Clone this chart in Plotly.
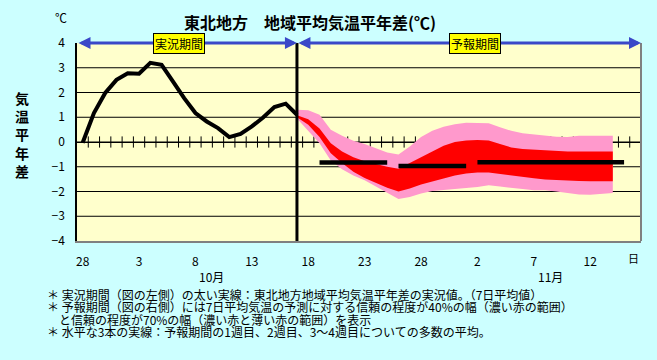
import plotly.graph_objects as go

# ---------------- data ----------------
# categories: 28 Sep .. 16 Nov (index 0..49)
day_labels = ["28", "3", "8", "13", "18", "23", "28", "2", "7", "12"]
label_idx = [0, 5, 10, 15, 20, 25, 30, 35, 40, 45]
n_days = 50

obs_days = list(range(0, 20))
obs_vals = [-0.03, 1.17, 1.98, 2.51, 2.78, 2.76, 3.2, 3.12, 2.45, 1.77,
            1.17, 0.83, 0.56, 0.2, 0.33, 0.63, 0.99, 1.41, 1.55, 1.10]

fc_days = list(range(19, 48))
red_hi = [1.08, 0.92, 0.55, -0.05, -0.38, -0.62, -0.78, -0.9, -1.0, -1.08,
          -0.85, -0.62, -0.4, -0.15, 0.0, 0.06, 0.08, 0.06, -0.08, -0.22,
          -0.28, -0.31, -0.34, -0.36, -0.38, -0.38, -0.38, -0.38, -0.38]
red_lo = [1.0, 0.7, 0.2, -0.45, -0.85, -1.2, -1.45, -1.65, -1.85, -2.0,
          -1.88, -1.72, -1.6, -1.48, -1.35, -1.27, -1.23, -1.23, -1.28, -1.35,
          -1.41, -1.46, -1.52, -1.55, -1.57, -1.58, -1.59, -1.59, -1.59]
pink_hi = [1.3, 1.28, 1.1, 0.5, 0.25, 0.05, -0.08, -0.25, -0.42, -0.5,
           -0.18, 0.2, 0.45, 0.62, 0.72, 0.78, 0.78, 0.76, 0.6, 0.45,
           0.35, 0.3, 0.24, 0.21, 0.2, 0.25, 0.25, 0.25, 0.25]
pink_lo = [0.95, 0.45, -0.05, -0.75, -1.1, -1.35, -1.55, -1.8, -2.05, -2.3,
           -2.22, -2.08, -1.98, -1.93, -1.88, -1.86, -1.82, -1.75, -1.8, -1.86,
           -1.9, -1.95, -1.95, -2.0, -2.05, -2.12, -2.13, -2.1, -2.06]

week_starts = [21, 28, 35]
week_ends = [27, 34, 48]
week_vals = [-0.83, -0.97, -0.82]

y_ticks = [-4, -3, -2, -1, 0, 1, 2, 3, 4]

notes = [
    "＊ 実況期間（図の左側）の太い実線：東北地方地域平均気温平年差の実況値。（7日平均値）",
    "＊ 予報期間（図の右側）には7日平均気温の予測に対する信頼の程度が40%の幅（濃い赤の範囲）",
    "　と信頼の程度が70%の幅（濃い赤と薄い赤の範囲）を表示",
    "＊ 水平な3本の実線：予報期間の1週目、2週目、3～4週目についての多数の平均。",
]

# ---------------- layout geometry ----------------
W_PX, H_PX = 657, 360
L, R, T, B = 77, 16, 43, 119
PW = W_PX - L - R
PH = H_PX - T - B

def px(x):
    return (x - L) / PW

def py(y):
    return (H_PX - B - y) / PH

FONT = "Noto Sans CJK JP"
divider = obs_days[-1]
xmin, xmax = -0.5, n_days - 0.5
bounds = [k + 0.5 for k in range(n_days)]

fig = go.Figure()

# category-boundary tick marks crossing the zero line (drawn beneath bands)
fig.add_trace(go.Scatter(x=bounds, y=[0] * len(bounds), mode="markers",
                         marker=dict(symbol="line-ns", size=8,
                                     line=dict(color="black", width=1)),
                         showlegend=False, hoverinfo="skip", cliponaxis=False))

# pink (70%) band
fig.add_trace(go.Scatter(x=fc_days, y=pink_lo, mode="lines", line=dict(width=0),
                         showlegend=False, hoverinfo="skip"))
fig.add_trace(go.Scatter(x=fc_days, y=pink_hi, mode="lines", line=dict(width=0),
                         fill="tonexty", fillcolor="#FF99CC", showlegend=False))
# red (40%) band
fig.add_trace(go.Scatter(x=fc_days, y=red_lo, mode="lines", line=dict(width=0),
                         showlegend=False, hoverinfo="skip"))
fig.add_trace(go.Scatter(x=fc_days, y=red_hi, mode="lines", line=dict(width=0),
                         fill="tonexty", fillcolor="#FF0000", showlegend=False))

# observed line
fig.add_trace(go.Scatter(x=obs_days, y=obs_vals, mode="lines",
                         line=dict(color="black", width=4), showlegend=False))

# weekly mean lines
for s, e, v in zip(week_starts, week_ends, week_vals):
    fig.add_trace(go.Scatter(x=[s, e], y=[v, v], mode="lines",
                             line=dict(color="black", width=4.5), showlegend=False))

# horizontal grid lines (beneath traces)
for v in y_ticks[1:-1]:
    fig.add_shape(type="line", x0=0, x1=1, xref="paper", y0=v, y1=v, yref="y",
                  line=dict(color="black", width=1), layer="below")

# divider line
fig.add_shape(type="line", x0=divider, x1=divider, y0=y_ticks[0], y1=y_ticks[-1],
              xref="x", yref="y", line=dict(color="black", width=3))
# right border
fig.add_shape(type="line", x0=1, x1=1, y0=0, y1=1, xref="paper", yref="paper",
              line=dict(color="#808080", width=2))

annotations = []
ARROW = "#3A48C8"
for x0, x1 in [(xmin, divider), (divider, xmax)]:
    annotations.append(dict(x=x1, y=y_ticks[-1], ax=x0, ay=y_ticks[-1],
                            xref="x", yref="y", axref="x", ayref="y", text="",
                            showarrow=True, arrowside="end+start", arrowhead=2,
                            startarrowhead=2, arrowsize=0.8, startarrowsize=0.8,
                            arrowwidth=3, arrowcolor=ARROW, standoff=0,
                            startstandoff=0))

for txt, xc in [("実況期間", 8.5), ("予報期間", 34.75)]:
    annotations.append(dict(x=xc, y=y_ticks[-1], xref="x", yref="y", text=txt,
                            showarrow=False, bgcolor="#FFFF00", bordercolor="black",
                            borderwidth=1, borderpad=1, xanchor="center",
                            yanchor="middle",
                            font=dict(family=FONT, size=12, color="black")))

def label(txt, x, y, size, anchor="center", align="center"):
    annotations.append(dict(x=px(x), y=py(y), xref="paper", yref="paper",
                            text=txt, showarrow=False, xanchor=anchor,
                            yanchor="middle", align=align,
                            font=dict(family=FONT, size=size, color="black")))

label("<b>東北地方　地域平均気温平年差(℃)</b>", 310, 22, 16)
label("℃", 61, 18, 12)
label("<b>気<br>温<br>平<br>年<br>差</b>", 22, 134, 14)
label("10月", 211, 276, 12)
label("11月", 550, 276, 12)
label("日", 633, 258, 11)

# notes block: one text, 12px glyphs on a tighter (~12.4px) line pitch
notes_text = "<br>".join("<span style='font-size:12px'>%s</span>" % t for t in notes)
label(notes_text, 45, 312.5, 9.5, anchor="left", align="left")

fig.update_layout(
    width=W_PX, height=H_PX,
    margin=dict(l=L, r=R, t=T, b=B, autoexpand=False),
    paper_bgcolor="#CCFFFF",
    plot_bgcolor="#FFFFCC",
    font=dict(family=FONT, size=12, color="black"),
    showlegend=False,
    hovermode=False,
    annotations=annotations,
    xaxis=dict(range=[xmin, xmax], tickmode="array", tickvals=label_idx,
               ticktext=day_labels, showgrid=False, zeroline=False,
               showline=True, linecolor="#808080", linewidth=2,
               ticks="outside", ticklen=9, tickcolor="rgba(0,0,0,0)",
               tickfont=dict(family=FONT, size=12, color="black"),
               automargin=False, fixedrange=True),
    yaxis=dict(range=[y_ticks[0], y_ticks[-1]], tickmode="array", tickvals=y_ticks,
               showgrid=False, zeroline=True, zerolinecolor="black",
               zerolinewidth=1, showline=True, linecolor="black", linewidth=1.5,
               ticks="outside", ticklen=8, tickcolor="rgba(0,0,0,0)",
               tickfont=dict(family=FONT, size=12, color="black"),
               automargin=False, fixedrange=True),
)

fig.write_html("out.html",
               config={"displayModeBar": False},
               post_script="document.body.style.margin='0';"
                           "document.body.style.background='#CCFFFF';")
